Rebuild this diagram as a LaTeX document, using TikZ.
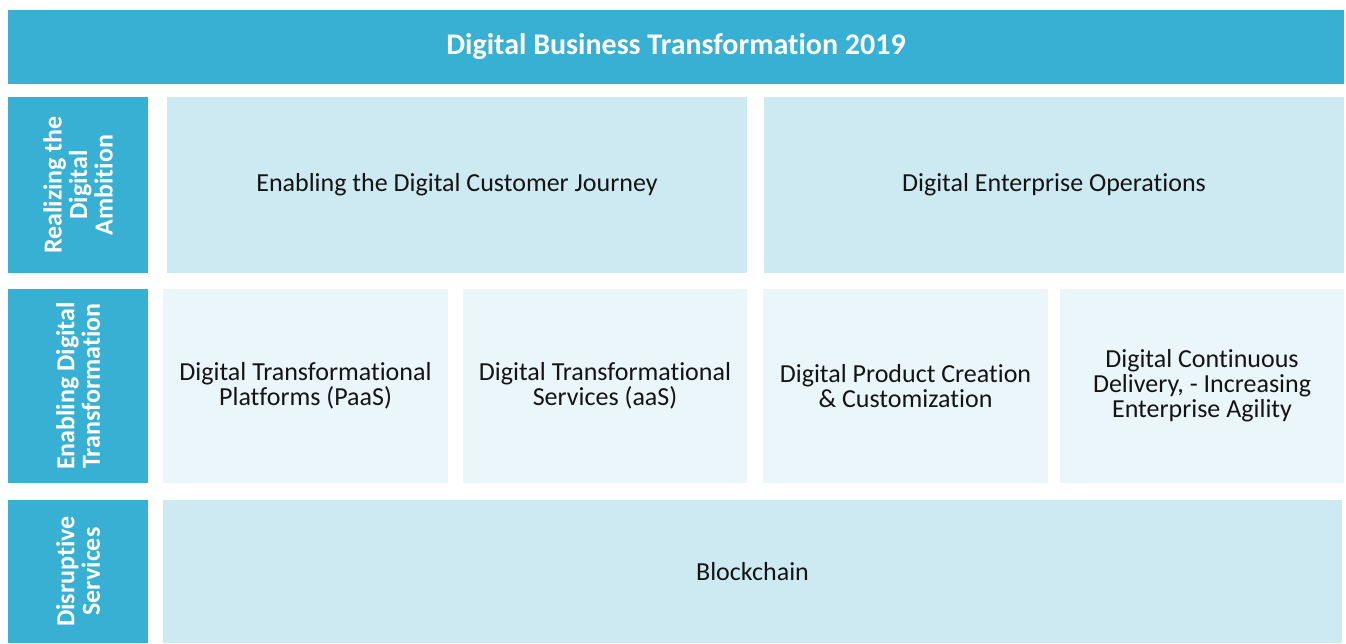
\documentclass[tikz,border=0pt]{standalone}
\usepackage{fontspec}
\setmainfont{Carlito}[Ligatures=NoCommon]
\definecolor{bandblue}{RGB}{56,176,212}
\definecolor{paleblue}{RGB}{205,234,243}
\definecolor{paleblue2}{RGB}{234,246,250}
\definecolor{inkgrey}{RGB}{20,20,20}
\tikzset{
  band/.style={fill=bandblue, text=white, inner sep=0pt, align=center, font=\bfseries\fontsize{26}{25.5}\selectfont},
  cell/.style={fill=paleblue, text=inkgrey, inner sep=0pt, align=center, font=\fontsize{26}{25}\selectfont},
  cellb/.style={cell, fill=paleblue2},
}

\begin{document}
\begin{tikzpicture}[x=1pt,y=1pt,yscale=-1,xscale=1]
\useasboundingbox [fill=white] (0,0) rectangle (1346,643);
% title bar
\node [band, minimum width=1336pt, minimum height=74pt, font=\bfseries\fontsize{30}{30}\selectfont] (title) at (676,47) {Digital Business Transformation 2019};
% row labels
\node [band, rotate=90, minimum width=176pt, minimum height=140pt] (ambition) at (78,185) {Realizing the\\Digital\\Ambition};
\node [band, rotate=90, minimum width=194pt, minimum height=140pt] (enabling) at (78,386) {Enabling Digital\\Transformation};
\node [band, rotate=90, minimum width=143pt, minimum height=140pt] (disruptive) at (78,571.5) {Disruptive\\Services};
% first row
\node [cell, minimum width=580pt, minimum height=176pt] (journey) at (457,185) {Enabling the Digital Customer Journey};
\node [cell, minimum width=580pt, minimum height=176pt] (operations) at (1054,185) {Digital Enterprise Operations};
% second row
\node [cellb, minimum width=285pt, minimum height=194pt] (paas) at (305.5,386) {Digital Transformational\\Platforms (PaaS)};
\node [cellb, minimum width=284pt, minimum height=194pt] (aas) at (605,386) {Digital Transformational\\Services (aaS)};
\node [cellb, minimum width=285pt, minimum height=194pt] (product) at (905.5,386) {Digital Product Creation\\\& Customization};
\node [cellb, minimum width=284pt, minimum height=194pt] (delivery) at (1202,386) {Digital Continuous\\Delivery, - Increasing\\Enterprise Agility};
% third row
\node [cell, minimum width=1179pt, minimum height=143pt] (blockchain) at (752.5,571.5) {Blockchain};
\end{tikzpicture}
\end{document}
